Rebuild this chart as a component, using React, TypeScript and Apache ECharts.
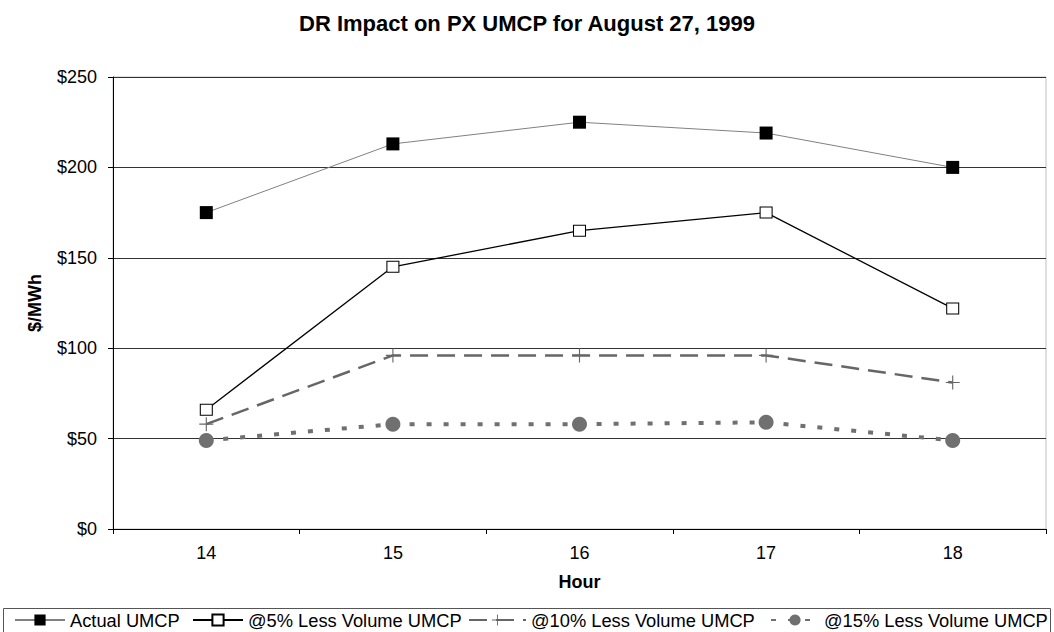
import React, { useEffect, useRef } from "react";
import * as echarts from "echarts";

const hours = ["14", "15", "16", "17", "18"];
const actual = [175, 213, 225, 219, 200];
const less5 = [66, 145, 165, 175, 122];
const less10 = [58, 96, 96, 96, 81];
const less15 = [49, 58, 58, 59, 49];

const seriesNames = [
  "Actual UMCP",
  "@5% Less Volume UMCP",
  "@10% Less Volume UMCP",
  "@15% Less Volume UMCP",
];

const FONT = "'Liberation Sans', Arial, sans-serif";
const PLUS = "path://M0,4.6H10V5.4H0Z M4.6,0H5.4V10H4.6Z";

const legendLayout = [
  { left: 14, width: 50 },
  { left: 192, width: 50 },
  { left: 468, width: 57 },
  { left: 770, width: 48 },
];

export default function App() {
  const ref = useRef<HTMLDivElement>(null);
  useEffect(() => {
    if (!ref.current) return;
    const chart = echarts.init(ref.current, undefined, { renderer: "svg" });
    chart.setOption({
      animation: false,
      backgroundColor: "#fff",
      textStyle: { fontFamily: FONT },
      title: {
        text: "DR Impact on PX UMCP for August 27, 1999",
        left: "center",
        top: 7,
        textStyle: { fontFamily: FONT, fontSize: 22, fontWeight: "bold", color: "#000" },
      },
      grid: {
        left: 113,
        right: 8,
        top: 77,
        bottom: 103,
        show: true,
        borderColor: "#c0c0c0",
        borderWidth: 1,
      },
      legend: seriesNames.map((n, i) => ({
        left: legendLayout[i].left,
        top: 611,
        itemWidth: legendLayout[i].width,
        itemHeight: 14,
        padding: 0,
        selectedMode: false,
        textStyle: { fontFamily: FONT, fontSize: 18.3, color: "#000" },
        data: [n],
      })),
      graphic: [
        {
          type: "rect",
          shape: { x: 3.5, y: 608.5, width: 1047, height: 30 },
          style: { fill: "none", stroke: "#555", lineWidth: 1 },
          silent: true,
        },
      ],
      xAxis: {
        type: "category",
        data: hours,
        boundaryGap: true,
        name: "Hour",
        nameLocation: "middle",
        nameGap: 44,
        nameTextStyle: { fontFamily: FONT, fontSize: 18, fontWeight: "bold", color: "#000" },
        axisLine: { lineStyle: { color: "#000", width: 1 } },
        axisTick: { show: true, length: 5, lineStyle: { color: "#000" } },
        axisLabel: { fontFamily: FONT, fontSize: 18, color: "#000", margin: 15 },
        splitLine: { show: false },
      },
      yAxis: {
        type: "value",
        min: 0,
        max: 250,
        interval: 50,
        name: "$/MWh",
        nameLocation: "middle",
        nameGap: 69,
        nameRotate: 90,
        nameTextStyle: { fontFamily: FONT, fontSize: 18, fontWeight: "bold", color: "#000" },
        axisLine: { show: true, lineStyle: { color: "#000", width: 1 } },
        axisTick: { show: true, length: 5, lineStyle: { color: "#000" } },
        axisLabel: { fontFamily: FONT, fontSize: 18, color: "#000", margin: 16, formatter: "${value}" },
        splitLine: { show: true, lineStyle: { color: "#333", width: 1 } },
      },
      series: [
        {
          name: seriesNames[0],
          type: "line",
          data: actual,
          symbol: "rect",
          symbolSize: 13,
          lineStyle: { color: "#808080", width: 1 },
          itemStyle: { color: "#000" },
          z: 5,
        },
        {
          name: seriesNames[1],
          type: "line",
          data: less5,
          symbol: "rect",
          symbolSize: [12, 11],
          lineStyle: { color: "#000", width: 1.3 },
          itemStyle: { color: "#fff", borderColor: "#000", borderWidth: 1 },
          z: 4,
        },
        {
          name: seriesNames[2],
          type: "line",
          data: less10,
          symbol: PLUS,
          symbolSize: 14,
          lineStyle: { color: "#666", width: 2.5, type: [18, 9] },
          itemStyle: { color: "#666" },
          z: 3,
        },
        {
          name: seriesNames[3],
          type: "line",
          data: less15,
          symbol: "circle",
          symbolSize: 15,
          lineStyle: { color: "#707070", width: 4, type: [5, 12] },
          itemStyle: { color: "#707070" },
          z: 2,
        },
      ],
    });
    return () => chart.dispose();
  }, []);
  return <div ref={ref} style={{ width: 1054, height: 632, position: "absolute", left: 0, top: 0 }} />;
}
